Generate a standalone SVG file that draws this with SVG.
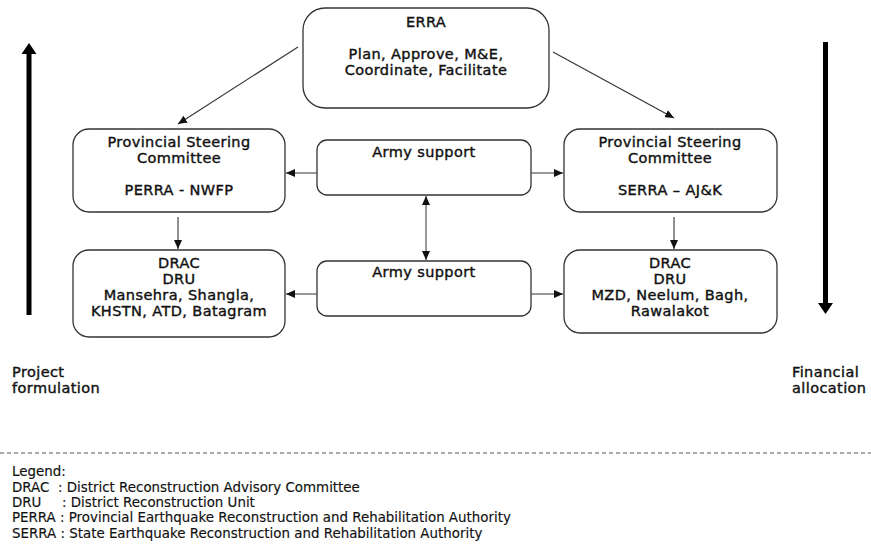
<svg xmlns="http://www.w3.org/2000/svg" width="871" height="555" viewBox="0 0 871 555">
<style>
.box{fill:#fff;stroke:#333;stroke-width:1.3}
.t{font-family:"DejaVu Sans",sans-serif;font-size:14.5px;letter-spacing:0.4px;fill:#111;stroke:#111;stroke-width:0.4;text-anchor:middle}
.s{font-family:"DejaVu Sans",sans-serif;font-size:14.5px;letter-spacing:0.4px;fill:#111;stroke:#111;stroke-width:0.4}
.lg{font-family:"DejaVu Sans",sans-serif;font-size:13.4px;fill:#111;stroke:#111;stroke-width:0.15}
.c{stroke:#333;stroke-width:1.1;fill:none}
.g{stroke:#555;stroke-width:1.2;fill:none}
</style>
<defs>
<marker id="ah" markerUnits="userSpaceOnUse" markerWidth="10" markerHeight="8" refX="9" refY="4" orient="auto-start-reverse">
<path d="M0,0 L9,4 L0,8 z" fill="#111"/>
</marker>
</defs>
<rect width="871" height="555" fill="#fff"/>

<g id="erra">
<rect class="box" x="303" y="8" width="246" height="100" rx="22"/>
<text class="t" x="426" y="27">ERRA</text>
<text class="t" x="426" y="59">Plan, Approve, M&amp;E,</text>
<text class="t" x="426" y="75">Coordinate, Facilitate</text>
</g>

<g id="psc-left">
<rect class="box" x="73" y="129" width="212" height="83" rx="16"/>
<text class="t" x="179" y="147">Provincial Steering</text>
<text class="t" x="179" y="163">Committee</text>
<text class="t" x="179" y="195">PERRA - NWFP</text>
</g>

<g id="army1">
<rect class="box" x="317" y="140" width="214" height="55" rx="10"/>
<text class="t" x="424" y="157">Army support</text>
</g>

<g id="psc-right">
<rect class="box" x="564" y="129" width="213" height="83" rx="16"/>
<text class="t" x="670" y="147">Provincial Steering</text>
<text class="t" x="670" y="163">Committee</text>
<text class="t" x="670" y="195">SERRA – AJ&amp;K</text>
</g>

<g id="drac-left">
<rect class="box" x="73" y="250" width="212" height="87" rx="16"/>
<text class="t" x="179" y="268">DRAC</text>
<text class="t" x="179" y="284">DRU</text>
<text class="t" x="179" y="300">Mansehra, Shangla,</text>
<text class="t" x="179" y="316">KHSTN, ATD, Batagram</text>
</g>

<g id="army2">
<rect class="box" x="317" y="261" width="214" height="55" rx="10"/>
<text class="t" x="424" y="277">Army support</text>
</g>

<g id="drac-right">
<rect class="box" x="564" y="250" width="213" height="83" rx="16"/>
<text class="t" x="670" y="268">DRAC</text>
<text class="t" x="670" y="284">DRU</text>
<text class="t" x="670" y="300">MZD, Neelum, Bagh,</text>
<text class="t" x="670" y="316">Rawalakot</text>
</g>

<g id="connectors">
<line class="c" x1="298" y1="47" x2="178" y2="124" marker-end="url(#ah)"/>
<line class="c" x1="553" y1="52" x2="674" y2="118" marker-end="url(#ah)"/>
<line class="g" x1="317" y1="173" x2="286" y2="173" marker-end="url(#ah)"/>
<line class="g" x1="531" y1="173" x2="563" y2="173" marker-end="url(#ah)"/>
<line class="g" x1="426" y1="196" x2="426" y2="260" marker-start="url(#ah)" marker-end="url(#ah)"/>
<line class="c" x1="178" y1="217" x2="178" y2="249" marker-end="url(#ah)"/>
<line class="c" x1="674" y1="217" x2="674" y2="249" marker-end="url(#ah)"/>
<line class="g" x1="317" y1="294" x2="286" y2="294" marker-end="url(#ah)"/>
<line class="g" x1="531" y1="294" x2="563" y2="294" marker-end="url(#ah)"/>
</g>

<g id="flow-up">
<rect x="26.5" y="52" width="5" height="263" fill="#000"/>
<polygon points="21.5,54 29,43 36.5,54" fill="#000"/>
<text class="s" x="12" y="377">Project</text>
<text class="s" x="12" y="393">formulation</text>
</g>

<g id="flow-down">
<rect x="823" y="42" width="5" height="262" fill="#000"/>
<polygon points="818,303 825.5,314 833,303" fill="#000"/>
<text class="s" x="792" y="377">Financial</text>
<text class="s" x="792" y="393">allocation</text>
</g>

<line x1="0" y1="453" x2="871" y2="453" stroke="#555" stroke-width="1" stroke-dasharray="4,3"/>

<g id="legend">
<text class="lg" x="12" y="476">Legend:</text>
<text class="lg" x="12" y="492">DRAC<tspan x="58">: District Reconstruction Advisory Committee</tspan></text>
<text class="lg" x="12" y="507">DRU<tspan x="62">: District Reconstruction Unit</tspan></text>
<text class="lg" x="12" y="522">PERRA : Provincial Earthquake Reconstruction and Rehabilitation Authority</text>
<text class="lg" x="12" y="538">SERRA : State Earthquake Reconstruction and Rehabilitation Authority</text>
</g>
</svg>
